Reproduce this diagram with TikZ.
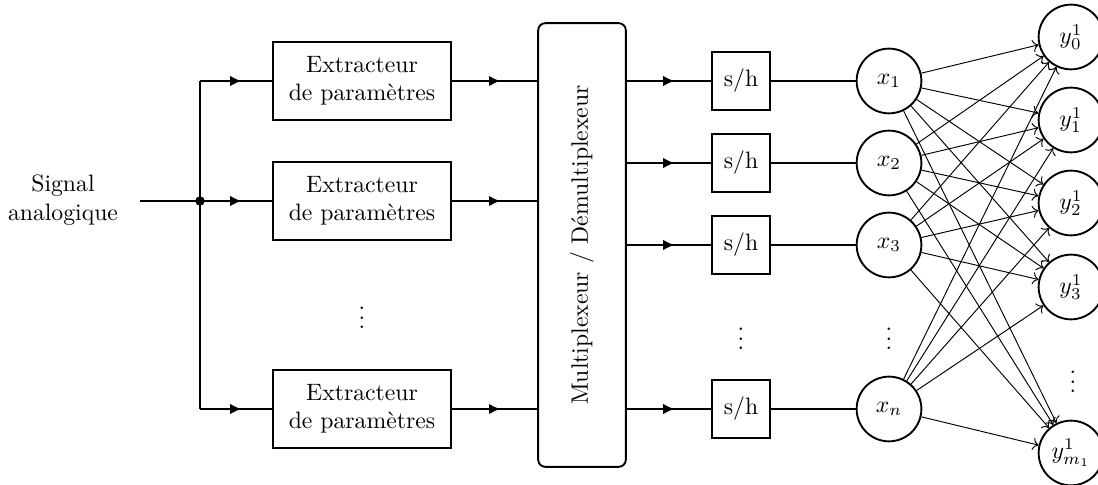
\documentclass[tikz,border=0pt]{standalone}
\usetikzlibrary{decorations.markings,arrows.meta}

\tikzset{
  bloc/.style={draw, thick, align=center, minimum width=2.65cm, minimum height=1.16cm},
  echant/.style={draw, thick, minimum size=0.86cm},
  neurone/.style={draw, thick, circle, minimum size=0.96cm, inner sep=0pt},
  fleche/.style={thick, postaction={decorate},
    decoration={markings, mark=at position 0.5 with {\arrow[xshift=2.4pt]{Latex[length=4.8pt, width=4.4pt]}}}},
  lien/.style={->, thin},
}

\begin{document}
\begin{tikzpicture}[x=0.01483cm, y=-0.01483cm]
\useasboundingbox (0,0) rectangle (1098,485);
% entree
\node[align=center] (sig) at (63,200) {Signal\\analogique};
\coordinate (entree) at (140,201);
\coordinate (jonc) at (200,201);
% extracteurs
\node[bloc] (ext1) at (362,81) {Extracteur\\de param\`etres};
\node[bloc] (ext2) at (362,201) {Extracteur\\de param\`etres};
\node[bloc] (extn) at (362,409) {Extracteur\\de param\`etres};
\node (pts1) at (362,311) {$\vdots$};
% multiplexeur
\node[draw, thick, rounded corners=3pt, minimum width=1.30cm, minimum height=6.58cm] (mux) at (582,245)
  {\rotatebox{90}{Multiplexeur / D\'emultiplexeur}};
% echantillonneurs
\node[echant] (sh1) at (741,81) {s/h};
\node[echant] (sh2) at (741,163) {s/h};
\node[echant] (sh3) at (741,245) {s/h};
\node[echant] (shn) at (741,409) {s/h};
\node (pts2) at (741,332) {$\vdots$};
% couche d'entree
\node[neurone] (x1) at (889,81) {$x_1$};
\node[neurone] (x2) at (889,163) {$x_2$};
\node[neurone] (x3) at (889,245) {$x_3$};
\node[neurone] (xn) at (889,409) {$x_n$};
\node (pts3) at (889,332) {$\vdots$};
% couche de sortie
\node[neurone] (y0) at (1071,37) {$y^1_0$};
\node[neurone] (y1) at (1071,120) {$y^1_1$};
\node[neurone] (y2) at (1071,203) {$y^1_2$};
\node[neurone] (y3) at (1071,287) {$y^1_3$};
\node[neurone] (ym) at (1071,453) {$y^1_{m_1}$};
\node (pts4) at (1073,375) {$\vdots$};

% liaisons
\draw[thick] (entree) -- (jonc);
\fill (jonc) circle (2pt);
\draw[thick] (jonc |- ext1) -- (jonc |- extn);
\foreach \e in {ext1,ext2,extn} {
  \draw[fleche] (jonc |- \e) -- (\e);
  \draw[fleche] (\e) -- (\e -| mux.west);
}
\foreach \s/\x in {sh1/x1,sh2/x2,sh3/x3,shn/xn} {
  \draw[fleche] (mux.east |- \s) -- (\s);
  \draw[thick] (\s) -- (\x);
}
\foreach \i in {x1,x2,x3,xn}
  \foreach \j in {y0,y1,y2,y3,ym}
    \draw[lien] (\i) -- (\j);
\end{tikzpicture}
\end{document}
